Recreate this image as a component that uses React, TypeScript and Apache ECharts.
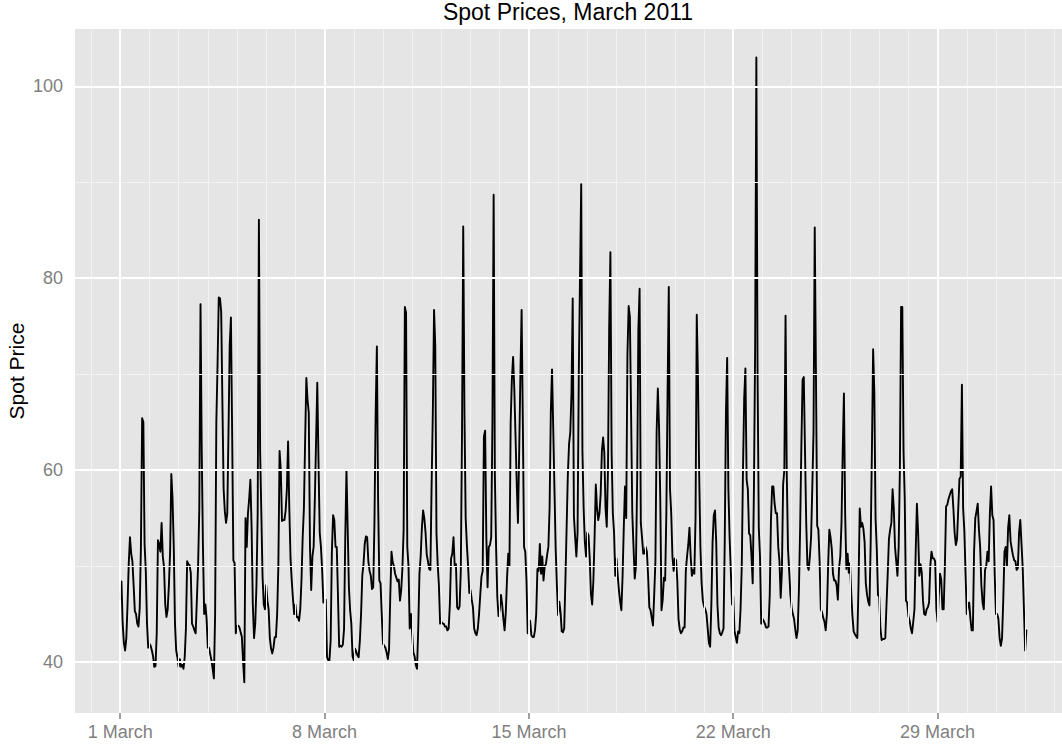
import React, { useEffect, useRef } from "react";
import * as echarts from "echarts";

// Hourly spot prices, starting 1 March 2011 00:00 (one value per hour)
const march01to07 = [
  46.6, 48.4, 44, 42, 41.2, 42.5, 46, 50.3, 53, 51.3, 50.5, 48, 45.3, 45, 44, 43.7, 45.6, 52, 65.4, 65, 52.3, 49.5, 44, 41.5,
  41.9, 41.7, 41.2, 40.6, 39.5, 39.6, 43, 52.7, 52.3, 51.5, 54.5, 51, 49.9, 46, 44.7, 45.5, 48, 51.5, 59.6, 57, 52, 44, 41.2, 40.5,
  39.5, 40.3, 39.5, 39.7, 39.3, 40.5, 43.5, 50.5, 50.2, 50.1, 49.3, 44, 43.7, 43.3, 43, 46.5, 50, 56, 77.3, 62, 52, 45, 46, 44.5,
  41.5, 41.5, 40.8, 40.2, 39.3, 38.3, 45, 65, 71, 78, 77.9, 76.5, 67, 58, 55.7, 54.5, 55.5, 64, 73, 75.9, 64, 50.6, 50.3, 43,
  43.8, 43.8, 43.6, 43.1, 42.6, 40, 37.9, 55, 52, 55.5, 57, 59, 54, 46, 42.5, 44, 48, 55.5, 86.1, 62, 55.5, 48.9, 46, 45.5,
  48, 46.4, 45.5, 42.5, 41.4, 40.9, 41.5, 42.6, 42.6, 45, 50, 62, 60, 54.7, 54.8, 54.8, 55.8, 58, 63, 56, 50.8, 48.5, 46.6, 45,
  46, 44.7, 44.7, 44.3, 45.5, 48.5, 53, 56, 63, 69.6, 67.3, 66, 52, 47.5, 51, 52, 57, 63, 69.1, 61, 53.5, 52, 49.6, 46.2,
];
const march08to14 = [
  46.5, 46.5, 40.5, 40.2, 40.2, 42.3, 51.5, 55.3, 54.8, 52, 52, 47, 41.6, 41.7, 41.6, 41.8, 43.4, 53, 60, 54, 47.8, 45.4, 44, 40.6,
  40.2, 41.4, 41.1, 40.7, 40.5, 42.2, 45, 49, 50.2, 52.3, 53.1, 53, 50.5, 49.5, 49, 47.6, 47.8, 54.5, 66, 72.9, 57, 48.5, 48.2, 45,
  41.9, 41.7, 41.5, 41, 40.3, 41.3, 46.8, 51.5, 50.4, 50, 49.2, 48.8, 48.4, 48.6, 46.4, 47.5, 49.8, 53.8, 77, 76.4, 52, 50, 43.5, 45,
  43, 41, 40.6, 39.7, 39.3, 43.5, 49.2, 51, 54, 55.8, 55, 53.5, 51.2, 50.5, 49.7, 49.6, 58.5, 66, 76.7, 73, 53.4, 50.2, 48, 44,
  44.2, 44, 44, 43.7, 43.7, 43.3, 43.5, 46, 50.8, 51.3, 53, 50, 50.2, 45.7, 45.5, 45.8, 49.5, 64, 85.4, 66, 55, 52.2, 50, 47.2,
  47.5, 46.5, 45.7, 43.5, 43, 42.8, 43.5, 45, 47, 48.9, 49.5, 63.5, 64.1, 53, 47.8, 52, 52.2, 53, 65, 88.7, 59.5, 52, 46.8, 44.8,
  45.5, 47, 46, 44.5, 43.3, 45.2, 48.7, 51.3, 50, 65, 69.5, 71.8, 68.4, 63.5, 58.5, 54.5, 62, 70, 76.7, 65, 52, 51.5, 48.5, 43,
];
const march15to21 = [
  44.3, 44.3, 42.8, 42.6, 42.6, 43.3, 45, 49.7, 49.5, 52.3, 49.2, 51, 48.5, 50, 50.2, 51.2, 52, 56, 66, 70.5, 64.3, 58, 51.8, 48,
  44.9, 46.3, 45.2, 43.2, 43.1, 43.5, 48.5, 54, 59.5, 62.7, 63.9, 68, 77.9, 55.2, 53, 51, 53.5, 70, 80, 89.8, 62, 56, 52.5, 51,
  53.5, 53.2, 50.8, 47.1, 46, 48.5, 53, 58.5, 56, 54.8, 55.5, 57.5, 62, 63.4, 61.8, 56, 54.1, 60, 75, 82.7, 61.8, 55.5, 53.5, 49,
  50.8, 49, 47.5, 46.3, 45.4, 48.9, 54, 58.3, 55, 72, 77.1, 76, 66, 55.5, 52, 48.7, 50, 59, 74.7, 78.9, 54.5, 53, 51.3, 51.3,
  52, 51.5, 49, 45.7, 45.4, 44.6, 43.8, 47, 50.5, 64, 68.5, 64.5, 57, 45.4, 46.5, 48.8, 48.5, 55.5, 68, 79.1, 58, 55.5, 51, 49.5,
  50.8, 50.6, 48.5, 44.5, 43.4, 43, 43.2, 43.6, 43.6, 49.5, 51, 52.2, 54, 51, 49, 49.6, 49.2, 55, 76.2, 69.5, 59.5, 52, 48.2, 46.4,
  45.8, 45.5, 45, 43.5, 42, 41.6, 46, 52.5, 55.3, 55.8, 52.5, 46, 43.6, 43, 42.8, 43.1, 43.5, 52.5, 66, 71.7, 58, 53, 49.5, 46,
];
const march22to28 = [
  46.8, 43.3, 42.6, 42, 43.2, 43, 45.5, 50, 60, 67.5, 70.6, 59, 58, 53.4, 53.2, 51, 48.2, 58, 72.9, 103, 70, 54, 51, 44,
  44.5, 44.3, 44, 43.6, 43.6, 43.7, 47, 54.8, 58.3, 58.3, 56.5, 55.5, 55.5, 52, 50.5, 46.7, 49.5, 58.5, 60, 76.1, 59.7, 51.8, 49.5, 47,
  45.7, 45, 44.5, 43.4, 42.5, 43.3, 47.5, 54, 62.5, 69.4, 69.7, 62, 54.5, 50, 49.6, 51, 53, 58.2, 64, 85.3, 70, 54.2, 53.8, 50.5,
  45.5, 45.2, 44.6, 44.2, 43.3, 45, 50, 53.8, 53, 51.8, 49.2, 48.5, 48.5, 48, 46.5, 49.8, 51, 54.5, 62, 68, 55.5, 49.7, 51.3, 49.3,
  50.3, 47.2, 44.8, 43.2, 42.9, 42.7, 42.5, 48, 56, 54.1, 54.5, 53.9, 52.5, 48.2, 47, 46.3, 45.9, 52.5, 62, 72.6, 68, 55, 51.8, 47,
  46.8, 43.5, 42.3, 42.4, 42.4, 42.5, 46, 49.2, 52.8, 53.8, 54.5, 58, 56, 52, 50.5, 49, 52, 60, 77, 77, 62, 57, 46.4, 46.2,
  44.8, 44.3, 43.5, 43, 44.2, 45.5, 51.5, 56.5, 53.5, 49, 50.2, 49.3, 46.4, 45, 44.9, 45.5, 45.7, 46.2, 50, 51.5, 50.8, 50.8, 50.5, 45.5,
];
const march29to31 = [
  44.2, 47, 49.2, 48.6, 45.5, 45.5, 50, 56.2, 56.4, 57, 57.4, 57.8, 58, 56, 53.5, 52.2, 52.8, 56, 59.1, 59.3, 68.9, 56, 53.7, 49.2,
  45, 46, 46.2, 44.5, 43.3, 43.3, 51.5, 55, 55.7, 56.5, 53.8, 52, 48, 46.2, 45.5, 49.6, 50, 51.5, 50.5, 55.5, 58.3, 55.3, 54.8, 49,
  45, 45, 44.5, 42.5, 41.7, 42.5, 46.5, 51.5, 52, 50, 54, 55.3, 52.6, 51.8, 51.1, 50.6, 50.5, 49.6, 49.8, 53.5, 54.8, 52.3, 49.8, 45.5,
  41.2, 43.3,
];

const tickDays = [0, 7, 14, 21, 28];
const tickLabels = ["1 March", "8 March", "15 March", "22 March", "29 March"];
const yTicks = [40, 60, 80, 100];
const yMinor = [50, 70, 90];

const TITLE = "Spot Prices, March 2011";
const Y_TITLE = "Spot Price";
const FONT = "'Liberation Sans', Arial, Helvetica, sans-serif";

export default function App() {
  const ref = useRef<HTMLDivElement>(null);

  useEffect(() => {
    if (!ref.current) return;
    const chart = echarts.init(ref.current, null, { renderer: "svg" });

    const prices = [...march01to07, ...march08to14, ...march15to21, ...march22to28, ...march29to31];
    const seriesData = prices.map((v, i) => [i / 24, v]);

    const minorDays: number[] = [];
    for (let d = -1; d <= 32; d++) if (!tickDays.includes(d)) minorDays.push(d);

    const labelFor = (v: number) => {
      const idx = tickDays.indexOf(Math.round(v));
      return idx >= 0 ? tickLabels[idx] : "";
    };

    const gridLine = (color: string, width: number, data: any[], z: number) => ({
      type: "line",
      data: [],
      z,
      silent: true,
      markLine: {
        silent: true,
        animation: false,
        symbol: ["none", "none"],
        label: { show: false },
        emphasis: { disabled: true },
        lineStyle: { color, width, type: "solid", opacity: 1 },
        data,
      },
    });

    chart.setOption({
      animation: false,
      backgroundColor: "#FFFFFF",
      textStyle: { fontFamily: FONT },
      grid: {
        left: 75,
        top: 29,
        width: 995.4,
        height: 684,
        show: true,
        backgroundColor: "#E5E5E5",
        borderWidth: 0,
        containLabel: false,
        outerBoundsMode: "none",
      },
      xAxis: {
        type: "value",
        min: -1.55,
        max: 32.55,
        axisLine: { show: false },
        splitLine: { show: false },
        axisTick: {
          show: true,
          customValues: tickDays,
          length: 6,
          lineStyle: { color: "#7F7F7F", width: 1.5 },
        },
        axisLabel: {
          customValues: tickDays,
          formatter: (v: number) => labelFor(v),
          color: "#7F7F7F",
          fontSize: 18,
          fontFamily: FONT,
          margin: 10,
        },
      },
      yAxis: {
        type: "value",
        min: 34.69,
        max: 105.97,
        axisLine: { show: false },
        splitLine: { show: false },
        axisTick: {
          show: true,
          customValues: yTicks,
          length: 6,
          lineStyle: { color: "#7F7F7F", width: 1.5 },
        },
        axisLabel: {
          customValues: yTicks,
          color: "#7F7F7F",
          fontSize: 18,
          fontFamily: FONT,
          margin: 12,
        },
      },
      graphic: [
        {
          type: "text",
          x: 568,
          y: 12,
          style: {
            text: TITLE,
            fill: "#000000",
            fontSize: 23,
            fontFamily: FONT,
            textAlign: "center",
            textVerticalAlign: "middle",
          },
        },
        {
          type: "text",
          x: 16,
          y: 371,
          rotation: Math.PI / 2,
          style: {
            text: Y_TITLE,
            fill: "#000000",
            fontSize: 21,
            fontFamily: FONT,
            textAlign: "center",
            textVerticalAlign: "middle",
          },
        },
      ],
      series: [
        gridLine(
          "#F2F2F2",
          1,
          [...minorDays.map((d) => ({ xAxis: d })), ...yMinor.map((v) => ({ yAxis: v }))],
          1
        ),
        gridLine(
          "#FFFFFF",
          1.8,
          [...tickDays.map((d) => ({ xAxis: d })), ...yTicks.map((v) => ({ yAxis: v }))],
          1.5
        ),
        {
          type: "line",
          data: seriesData,
          z: 3,
          silent: true,
          showSymbol: false,
          symbol: "none",
          lineStyle: { color: "#000000", width: 1.9, join: "round", cap: "round" },
        },
      ],
    });

    return () => chart.dispose();
  }, []);

  return (
    <div
      ref={ref}
      style={{ position: "absolute", left: 0, top: 0, width: 1062, height: 745, overflow: "hidden" }}
    />
  );
}
